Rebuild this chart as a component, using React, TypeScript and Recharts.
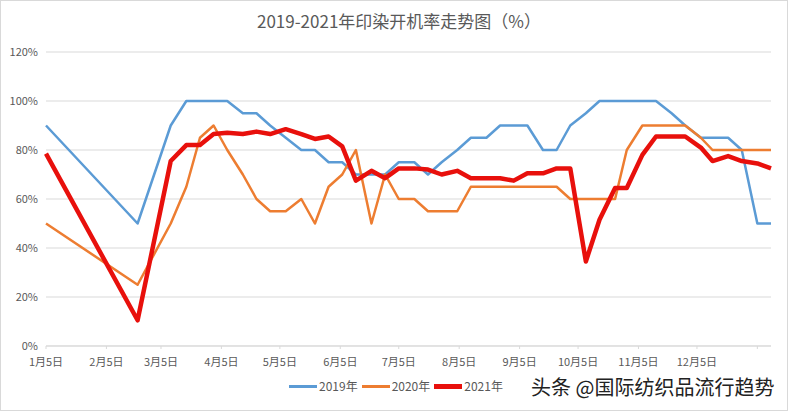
import React from 'react';
import { LineChart, Line, XAxis, YAxis, CartesianGrid } from 'recharts';

// x position = day of year (1月5日 = 5), next year's Jan 5 = 370
const days = [
  5, 52, 69, 77, 84, 91, 98, 106, 113, 120,
  128, 136, 143, 150, 157, 164, 172, 179, 186, 194,
  201, 208, 216, 223, 231, 238, 245, 252, 260, 267,
  274, 282, 289, 297, 303, 311, 318, 326, 333, 341,
  347, 355, 362, 370, 377
];

const rate2019 = [
  90, 50, 90, 100, 100, 100, 100, 95, 95, 90,
  85, 80, 80, 75, 75, 70, 70, 70, 75, 75,
  70, 75, 80, 85, 85, 90, 90, 90, 80, 80,
  90, 95, 100, 100, 100, 100, 100, 95, 90, 85,
  85, 85, 80, 50, 50
];

const rate2020 = [
  50, 25, 50, 65, 85, 90, 80, 70, 60, 55,
  55, 60, 50, 65, 70, 80, 50, 70, 60, 60,
  55, 55, 55, 65, 65, 65, 65, 65, 65, 65,
  60, 60, 60, 60, 80, 90, 90, 90, 90, 85,
  80, 80, 80, 80, 80
];

const rate2021 = [
  78.5, 10.5, 75.5, 82, 82, 86.5, 87, 86.5, 87.5, 86.5,
  88.5, 86.5, 84.5, 85.5, 81.5, 67.5, 71.5, 68.5, 72.5, 72.5,
  72, 70, 71.5, 68.5, 68.5, 68.5, 67.5, 70.5, 70.5, 72.5,
  72.5, 34.5, 51.5, 64.5, 64.5, 78, 85.5, 85.5, 85.5, 81,
  75.5, 77.5, 75.5, 74.5, 72.5
];

const tickDays = [5, 36, 64, 95, 125, 156, 186, 217, 248, 278, 309, 339, 370];
const tickLabels = [
  '1月5日', '2月5日', '3月5日', '4月5日', '5月5日', '6月5日',
  '7月5日', '8月5日', '9月5日', '10月5日', '11月5日', '12月5日', ''
];
const yTicks = [0, 20, 40, 60, 80, 100, 120];

const series = [
  { key: 'y2019', name: '2019年', color: '#5b9bd5', width: 2.5 },
  { key: 'y2020', name: '2020年', color: '#ed7d31', width: 2.5 },
  { key: 'y2021', name: '2021年', color: '#e8100c', width: 4.5 }
];

const chartData = days.map((d, i) => ({
  day: d,
  y2019: rate2019[i],
  y2020: rate2020[i],
  y2021: rate2021[i]
}));

const FONT = '"Noto Sans CJK SC", "Noto Sans", sans-serif';

const App: React.FC = () => {
  return (
    <div
      style={{
        position: 'absolute',
        left: 0,
        top: 0,
        width: 788,
        height: 411,
        background: '#fff',
        boxShadow: 'inset 0 0 0 1px #d9d9d9',
        fontFamily: FONT
      }}
    >
      <div
        style={{
          position: 'absolute',
          top: 9,
          left: 0,
          width: 798,
          textAlign: 'center',
          fontSize: 17,
          color: '#595959',
          lineHeight: '24px'
        }}
      >
        2019-2021年印染开机率走势图（%）
      </div>

      <LineChart
        width={788}
        height={411}
        data={chartData}
        margin={{ top: 52, right: 17, bottom: 35, left: 0 }}
      >
        <CartesianGrid vertical={false} stroke="#d9d9d9" />
        <XAxis
          dataKey="day"
          type="number"
          domain={[5, 377]}
          ticks={tickDays}
          tickFormatter={(v: number) => tickLabels[tickDays.indexOf(v)] ?? ''}
          interval={0}
          height={30}
          stroke="#d9d9d9"
          tickSize={3}
          tickMargin={9}
          tick={{ fill: '#595959', fontSize: 11, fontFamily: FONT }}
        />
        <YAxis
          type="number"
          domain={[0, 120]}
          ticks={yTicks}
          tickFormatter={(v: number) => `${v}%`}
          width={46}
          axisLine={false}
          tickLine={false}
          tickSize={6}
          tickMargin={2}
          tick={{ fill: '#595959', fontSize: 11, fontFamily: FONT }}
        />
        {series.map(s => (
          <Line
            key={s.key}
            type="linear"
            dataKey={s.key}
            name={s.name}
            stroke={s.color}
            strokeWidth={s.width}
            strokeLinejoin="round"
            dot={false}
            activeDot={false}
            isAnimationActive={false}
          />
        ))}
      </LineChart>

      <div
        style={{
          position: 'absolute',
          left: 289,
          top: 377,
          display: 'flex',
          alignItems: 'center',
          fontSize: 12,
          color: '#595959',
          lineHeight: '18px'
        }}
      >
        {series.map(s => (
          <div key={s.key} style={{ display: 'flex', alignItems: 'center', marginRight: 4 }}>
            <span
              style={{
                display: 'inline-block',
                width: 28,
                height: s.key === 'y2021' ? 5 : 3,
                background: s.color,
                marginRight: 2
              }}
            />
            <span>{s.name}</span>
          </div>
        ))}
      </div>

      <div
        style={{
          position: 'absolute',
          left: 531,
          top: 373,
          fontSize: 20,
          color: '#222',
          lineHeight: '28px',
          whiteSpace: 'nowrap'
        }}
      >
        头条 @国际纺织品流行趋势
      </div>
    </div>
  );
};

export default App;
